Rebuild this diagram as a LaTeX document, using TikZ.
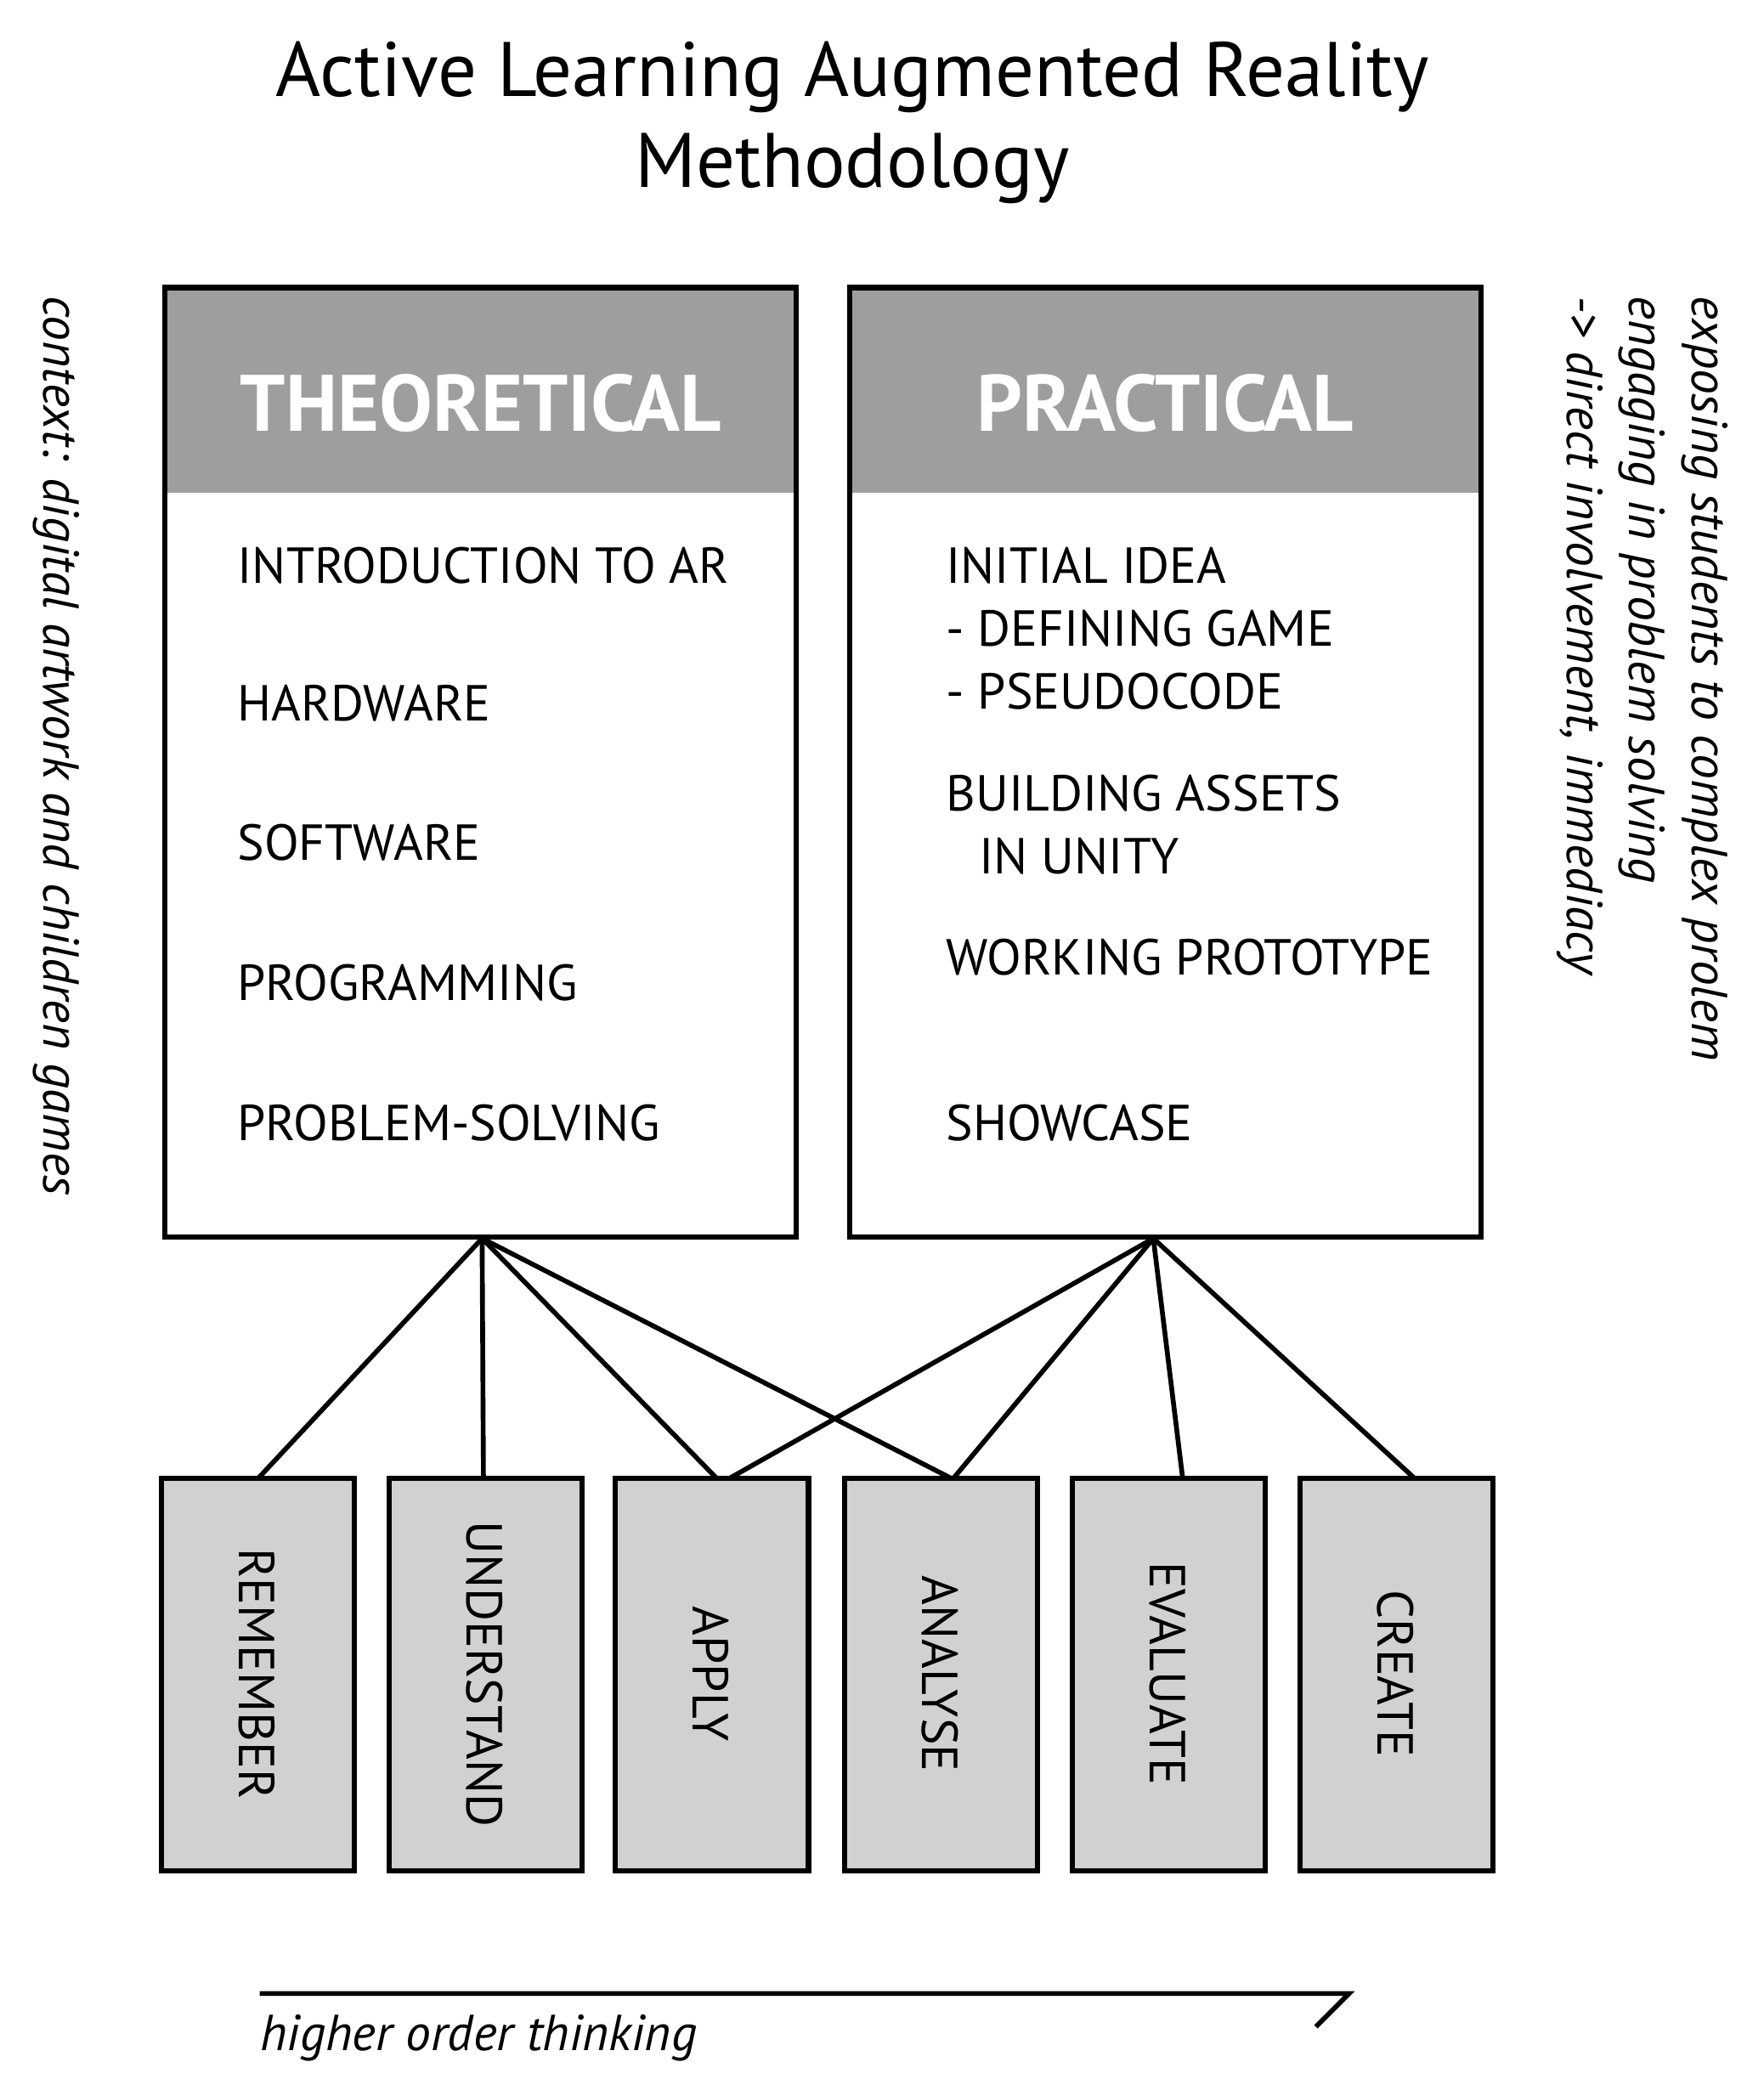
\documentclass[tikz,border=0pt]{standalone}
\usepackage{fontspec}
\setmainfont{PT Sans}
\begin{document}
\begin{tikzpicture}[x=0.5pt,y=-0.5pt,
  box/.style={draw,line width=2pt},
  item/.style={anchor=west,inner sep=0,font=\fontsize{19}{22}\selectfont},
  bl/.style={draw,line width=2pt,fill=black!18},
  bt/.style={rotate=-90,font=\fontsize{19}{22}\selectfont},
  ln/.style={line width=1.8pt},
  side/.style={rotate=-90,anchor=north west,inner sep=0,align=left,font=\fontsize{19}{23.5}\selectfont\itshape}]
\useasboundingbox (0,0) rectangle (1324,1574);
\node[font=\fontsize{29}{34}\selectfont,align=center] (title) at (640,92) {Active Learning Augmented Reality\\Methodology};
% theoretical
\fill[black!38] (124,216) rectangle (598,370);
\draw[box] (124,216) rectangle (598,929);
\node[font=\fontsize{30}{32}\selectfont\bfseries,text=white] (th) at (361,303) {THEORETICAL};
\coordinate (T) at (362,930);
\node[item] (t1) at (178,425) {INTRODUCTION TO AR};
\node[item] (t2) at (178,528) {HARDWARE};
\node[item] (t3) at (178,633) {SOFTWARE};
\node[item] (t4) at (178,738) {PROGRAMMING};
\node[item] (t5) at (178,843) {PROBLEM-SOLVING};
% practical
\fill[black!38] (638,216) rectangle (1112,370);
\draw[box] (638,216) rectangle (1112,929);
\node[font=\fontsize{30}{32}\selectfont\bfseries,text=white] (pr) at (875,303) {PRACTICAL};
\coordinate (P) at (866,930);
\node[item] (p1) at (710,425) {INITIAL IDEA};
\node[item] (p2) at (710,472) {- DEFINING GAME};
\node[item] (p3) at (710,519) {- PSEUDOCODE};
\node[item] (p4) at (710,596) {BUILDING ASSETS};
\node[item] (p5) at (735,643) {IN UNITY};
\node[item] (p6) at (710,719) {WORKING PROTOTYPE};
\node[item] (p7) at (710,843) {SHOWCASE};
% bottom boxes
\foreach \n/\a/\t in {b1/121/REMEMBER,b2/292/UNDERSTAND,b3/462/APPLY,b4/634/ANALYSE,b5/805/EVALUATE,b6/976/CREATE}{
  \draw[bl] (\a,1110) rectangle ++(145,295);
  \node[bt] (\n) at (\a+72,1257) {\t};
}
\coordinate (r1) at (194,1110); \coordinate (r2) at (363,1110);
\coordinate (r3) at (538,1110); \coordinate (r4) at (714,1110);
\coordinate (s3) at (548,1110); \coordinate (s4) at (716,1110);
\coordinate (s5) at (888,1110); \coordinate (s6) at (1062,1110);
\foreach \c in {r1,r2,r3,r4} \draw[ln] (T) -- (\c);
\foreach \c in {s3,s4,s5,s6} \draw[ln] (P) -- (\c);
% side texts
\node[side] (ctx) at (60,222) {context: digital artwork and children games};
\node[side] (rs) at (1298,222) {exposing students to complex prolem\\engaging in problem solving\\-> direct involvement, immediacy};
% bottom arrow
\coordinate (h1) at (195,1497); \coordinate (h2) at (1013,1497); \coordinate (h3) at (988,1522);
\draw[ln] (h1) -- (h2) -- (h3);
\node[anchor=base west,inner sep=0,font=\fontsize{19}{22}\selectfont\itshape] (hot) at (195,1540) {higher order thinking};
\end{tikzpicture}
\end{document}
